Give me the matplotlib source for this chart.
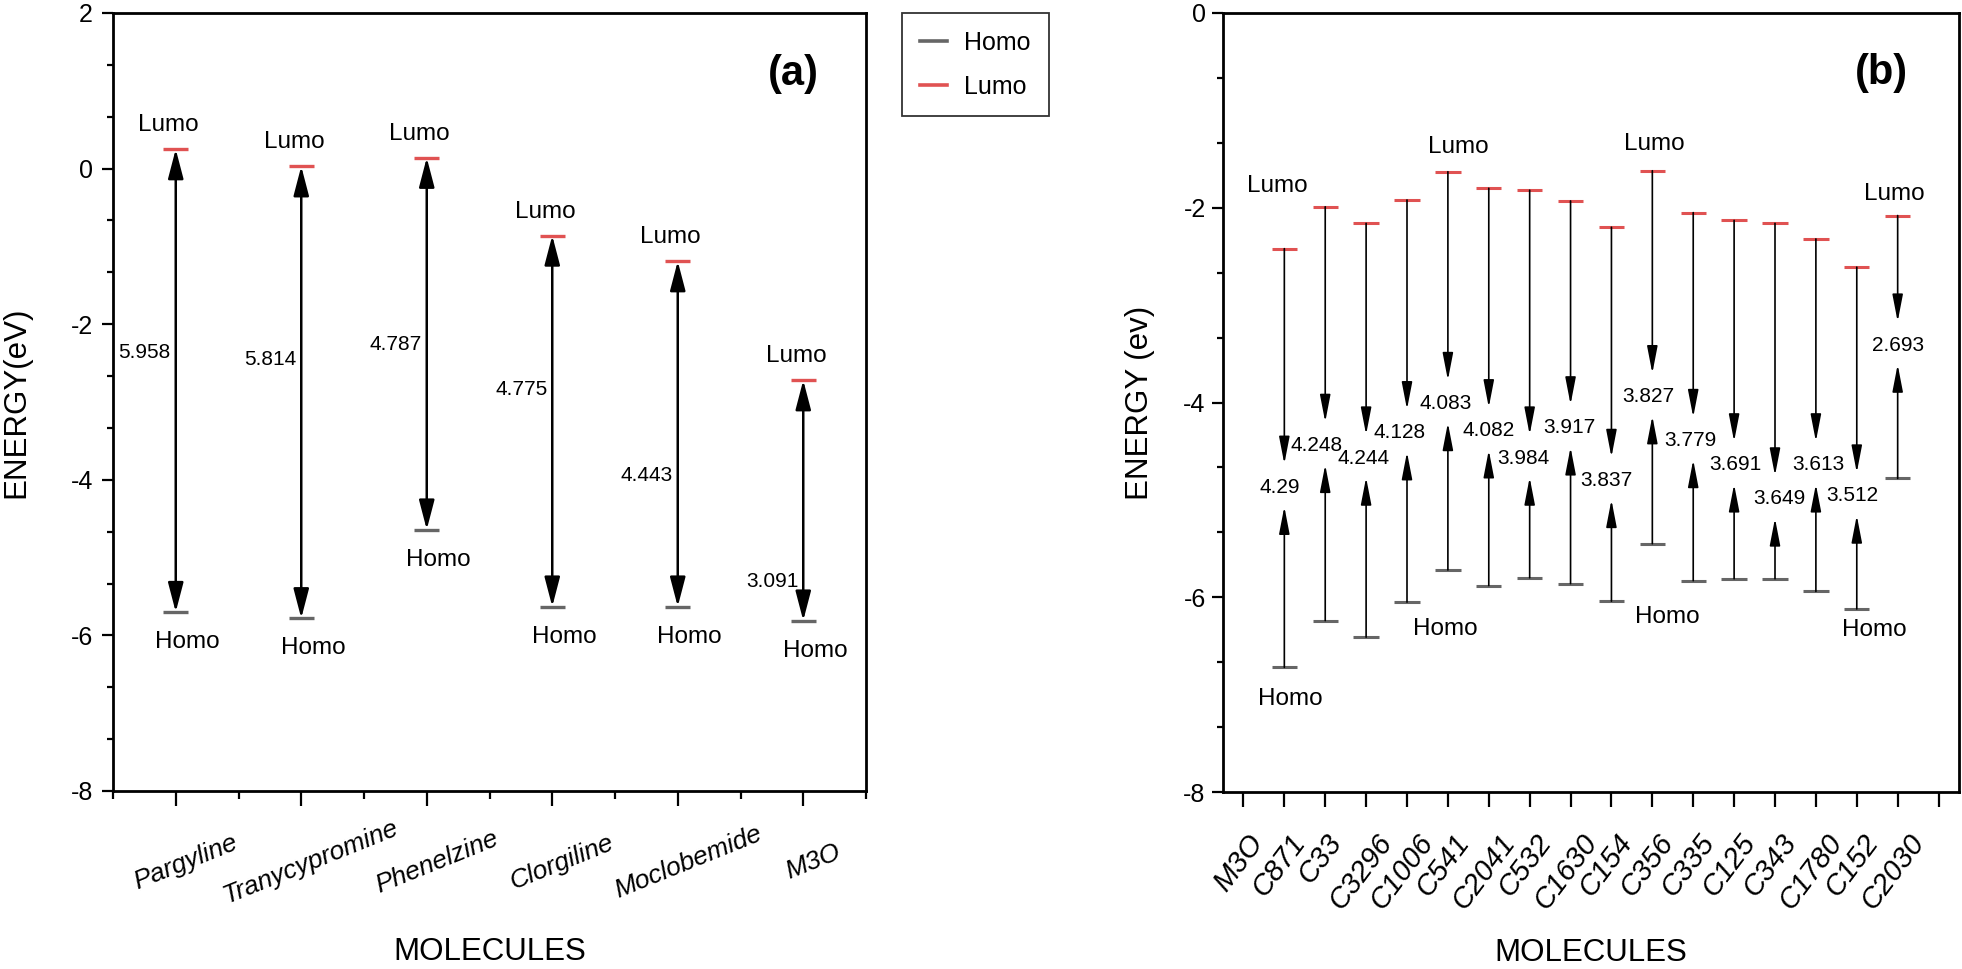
import matplotlib
matplotlib.use("Agg")
import matplotlib.pyplot as plt
import matplotlib.transforms as mtransforms
import numpy as np
from matplotlib.lines import Line2D
from matplotlib.ticker import AutoMinorLocator, FixedLocator

plt.rcParams['font.family'] = ['Liberation Sans', 'DejaVu Sans']
plt.rcParams['axes.unicode_minus'] = False

# ---- data, panel (a) ----
drugs = ["Pargyline", "Tranycypromine", "Phenelzine", "Clorgiline", "Moclobemide", "M3O"]
lumo_a = [0.25, 0.03, 0.14, -0.86, -1.19, -2.72]
homo_a = [-5.70, -5.78, -4.64, -5.63, -5.63, -5.81]
gap_a = ["5.958", "5.814", "4.787", "4.775", "4.443", "3.091"]

# ---- data, panel (b) ----
tick_labels_b = ["M3O", "C871", "C33", "C3296", "C1006", "C541", "C2041", "C532", "C1630",
                 "C154", "C356", "C335", "C125", "C343", "C1780", "C152", "C2030"]
lumo_b = [-2.42, -1.99, -2.16, -1.92, -1.63, -1.80, -1.82, -1.93,
          -2.20, -1.62, -2.05, -2.13, -2.16, -2.32, -2.61, -2.08]
homo_b = [-6.72, -6.24, -6.41, -6.05, -5.72, -5.88, -5.80, -5.86,
          -6.04, -5.45, -5.83, -5.81, -5.81, -5.94, -6.12, -4.78]
gap_b = ["4.29", "4.248", "4.244", "4.128", "4.083", "4.082", "3.984", "3.917",
         "3.837", "3.827", "3.779", "3.691", "3.649", "3.613", "3.512", "2.693"]

# ---- layout of the value labels (not data) ----
gap_text_y_a = [-2.37, -2.45, -2.26, -2.84, -3.95, -5.31]
gap_text_y_b = [-4.87, -4.44, -4.57, -4.31, -4.01, -4.29, -4.57, -4.26,
                -4.80, -3.94, -4.39, -4.64, -4.99, -4.64, -4.96, -3.41]
gap_text_dx_b = [-0.12, -0.22, -0.06, -0.17, -0.05, 0.0, -0.16, -0.02,
                 -0.12, -0.10, -0.08, 0.04, 0.10, 0.07, -0.11, 0.02]
# (index, dx px, dy px) for the few Lumo / Homo tags in panel (b)
lumo_tags_b = [(0, -7, 63), (4, 10, 25), (9, 2, 27), (15, -3, 22)]
homo_tags_b = [(0, 6, -32), (4, -3, -59), (9, 15, -73), (14, 18, -21)]

RED = "#e05252"
GRAY = "#666666"

fig = plt.figure(figsize=(19.62, 9.69), dpi=100)
ax_a = fig.add_axes([113 / 1962, 1 - 791 / 969, 753 / 1962, 778 / 969])
ax_b = fig.add_axes([1223 / 1962, 1 - 792 / 969, 736 / 1962, 779 / 969])


def style_axes(ax, ypad):
    for s in ax.spines.values():
        s.set_linewidth(2.0)
    ax.yaxis.set_minor_locator(AutoMinorLocator(3))
    ax.tick_params(axis="y", which="major", direction="out", length=8, width=1.6,
                   labelsize=18, pad=ypad)
    ax.tick_params(axis="y", which="minor", direction="out", length=4, width=1.6)
    ax.tick_params(axis="x", which="major", direction="out", length=11, width=1.6)
    ax.tick_params(axis="x", which="minor", direction="out", length=6, width=1.6)


def shift_labels(ax, dx_px):
    off = mtransforms.ScaledTranslation(dx_px / 100, 0, fig.dpi_scale_trans)
    for lab in ax.get_xticklabels():
        lab.set_transform(lab.get_transform() + off)


# ================= panel (a) =================
xa = np.arange(1, len(drugs) + 1)
ax_a.hlines(lumo_a, xa - 0.1, xa + 0.1, color=RED, lw=2.4, zorder=3)
ax_a.hlines(homo_a, xa - 0.1, xa + 0.1, color=GRAY, lw=2.4, zorder=3)
for i, x in enumerate(xa):
    ax_a.annotate("", xy=(x, lumo_a[i]), xytext=(x, homo_a[i]),
                  arrowprops=dict(arrowstyle="<|-|>,head_length=1.8,head_width=0.47",
                                  color="black", lw=1.8, shrinkA=0, shrinkB=0,
                                  mutation_scale=10))
    ax_a.annotate(gap_a[i], xy=(x, gap_text_y_a[i]), xytext=(-5, 0),
                  textcoords="offset pixels", ha="right", va="center", fontsize=15)
    ax_a.annotate("Lumo", xy=(x, lumo_a[i]), xytext=(-7, 24),
                  textcoords="offset pixels", ha="center", va="center", fontsize=17.5)
    ax_a.annotate("Homo", xy=(x, homo_a[i]), xytext=(12, -30),
                  textcoords="offset pixels", ha="center", va="center", fontsize=17.5)

ax_a.set_xlim(0.5, 6.5)
ax_a.set_ylim(-8, 2)
ax_a.set_yticks(np.arange(-8, 3, 2))
ax_a.set_xticks(xa)
ax_a.xaxis.set_minor_locator(FixedLocator(np.arange(0.5, 7, 1.0)))
style_axes(ax_a, 6.5)
ax_a.set_xticklabels(drugs, rotation=22, style="italic", fontsize=19,
                     ha="center", va="center")
ax_a.tick_params(axis="x", which="major", pad=40)
shift_labels(ax_a, 10)
ax_a.text(0.903, 0.922, "(a)", transform=ax_a.transAxes, fontsize=30,
          fontweight="bold", ha="center", va="center")
ax_a.set_ylabel("ENERGY(eV)", fontsize=22.5)
ax_a.set_xlabel("MOLECULES", fontsize=22.5)
ax_a.yaxis.set_label_coords(-0.109, 0.5)
ax_a.xaxis.set_label_coords(0.5, -0.1875)

# ================= panel (b) =================
xb = np.arange(1, len(lumo_b) + 1)
ax_b.hlines(lumo_b, xb - 0.31, xb + 0.31, color=RED, lw=2.2, zorder=3)
ax_b.hlines(homo_b, xb - 0.31, xb + 0.31, color=GRAY, lw=2.2, zorder=3)
head_b = "-|>,head_length=1.66,head_width=0.32"
for i, x in enumerate(xb):
    ty = gap_text_y_b[i]
    ax_b.annotate("", xy=(x, ty + 0.24), xytext=(x, lumo_b[i]),
                  arrowprops=dict(arrowstyle=head_b, color="black", lw=1.2,
                                  shrinkA=0, shrinkB=0, mutation_scale=10))
    ax_b.annotate("", xy=(x, ty - 0.20), xytext=(x, homo_b[i]),
                  arrowprops=dict(arrowstyle=head_b, color="black", lw=1.2,
                                  shrinkA=0, shrinkB=0, mutation_scale=10))
    ax_b.text(x + gap_text_dx_b[i], ty, gap_b[i], ha="center", va="center", fontsize=15)

for idx, dx, dy in lumo_tags_b:
    ax_b.annotate("Lumo", xy=(xb[idx], lumo_b[idx]), xytext=(dx, dy),
                  textcoords="offset pixels", ha="center", va="center", fontsize=17.5)
for idx, dx, dy in homo_tags_b:
    ax_b.annotate("Homo", xy=(xb[idx], homo_b[idx]), xytext=(dx, dy),
                  textcoords="offset pixels", ha="center", va="center", fontsize=17.5)

ax_b.set_xlim(-0.5, 17.5)
ax_b.set_ylim(-8, 0)
ax_b.set_yticks(np.arange(-8, 1, 2))
ax_b.set_xticks(np.arange(0, 18))
style_axes(ax_b, 4.5)
ax_b.set_xticklabels(tick_labels_b + [""], rotation=53, style="italic", fontsize=21,
                     ha="center", va="top")
ax_b.tick_params(axis="x", which="major", pad=16)
shift_labels(ax_b, -5)
ax_b.text(0.895, 0.923, "(b)", transform=ax_b.transAxes, fontsize=30,
          fontweight="bold", ha="center", va="center")
ax_b.set_ylabel("ENERGY (ev)", fontsize=22.5)
ax_b.set_xlabel("MOLECULES", fontsize=22.5)
ax_b.yaxis.set_label_coords(-0.0924, 0.5)
ax_b.xaxis.set_label_coords(0.5, -0.1874)

# ---- legend ----
handles = [Line2D([], [], color=GRAY, lw=2.6), Line2D([], [], color=RED, lw=2.6)]
leg = fig.legend(handles, ["Homo", "Lumo"], loc="upper left",
                 bbox_to_anchor=(902 / 1962, 1 - 13 / 969), borderaxespad=0,
                 fontsize=18, frameon=True, fancybox=False, edgecolor="black",
                 handlelength=1.1, handletextpad=0.7, labelspacing=0.8, borderpad=0.7)
leg.get_frame().set_linewidth(1.3)

fig.savefig("out.png", dpi=100)
